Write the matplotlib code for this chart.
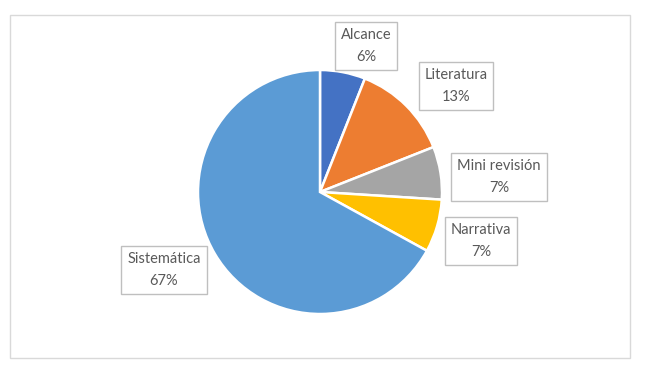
import matplotlib
matplotlib.use("Agg")
import matplotlib.pyplot as plt
from matplotlib.patches import Rectangle

categories = ["Alcance", "Literatura", "Mini revisión", "Narrativa", "Sistemática"]
values = [6, 13, 7, 7, 67]
colors = ["#4472C4", "#ED7D31", "#A5A5A5", "#FFC000", "#5B9BD5"]

W, H = 645, 371
fig = plt.figure(figsize=(W / 100, H / 100), dpi=100)
ax = fig.add_axes([0, 0, 1, 1])

cx, cy, r = 320, 192, 122
ax.pie(values, colors=colors, startangle=90, counterclock=False,
       center=(cx, H - cy), radius=r, frame=True,
       wedgeprops=dict(edgecolor="white", linewidth=1.8))
ax.set_xlim(0, W)
ax.set_ylim(0, H)
ax.axis("off")

# chart frame
ax.add_patch(Rectangle((10, H - 358), 620, 343, fill=False,
                       edgecolor="#D9D9D9", linewidth=1))

label_pos = [(366, 46), (456, 86), (499, 177), (481, 241), (164, 270)]
for cat, v, (lx, ly) in zip(categories, values, label_pos):
    ax.text(lx, H - ly, f"{cat}\n{v}%", ha="center", va="center",
            fontsize=10.5, color="#595959", family=["Lato", "DejaVu Sans"],
            linespacing=1.75,
            bbox=dict(boxstyle="square,pad=0.4", facecolor="white",
                      edgecolor="#BFBFBF", linewidth=1))

fig.savefig("out.png", dpi=100)
